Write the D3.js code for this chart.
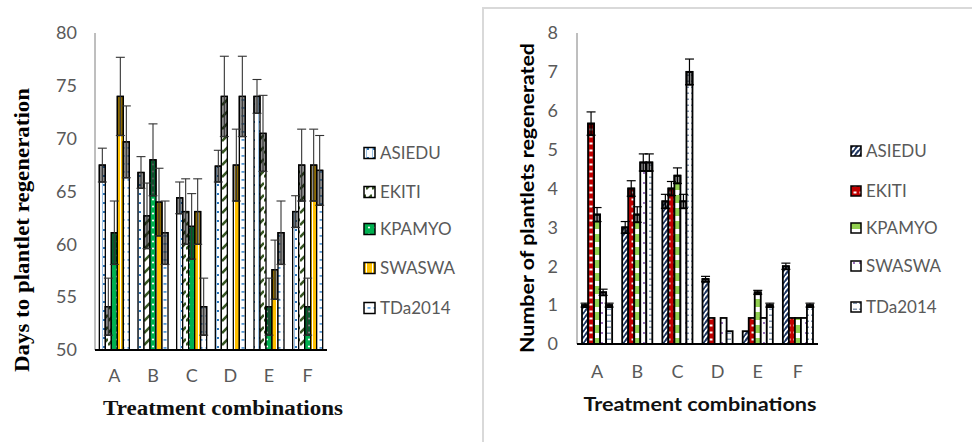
<!DOCTYPE html>
<html>
<head>
<meta charset="utf-8">
<script src="https://cdn.jsdelivr.net/npm/d3@7/dist/d3.min.js"></script>
<style>
    body { margin: 0; background: #fff; }
    svg { display: block; }
</style>
</head>
<body>
<div class="chart"></div>
<script>
const categories = ["A", "B", "C", "D", "E", "F"];
const seriesNames = ["ASIEDU", "EKITI", "KPAMYO", "SWASWA", "TDa2014"];

// left panel: days to plantlet regeneration
const daysTicks = [50, 55, 60, 65, 70, 75, 80];
const daysASIEDU = [67.5, 66.8, 64.4, 67.4, 74.0, 63.1];
const daysEKITI = [54.1, 62.7, 63.1, 74.0, 70.5, 67.5];
const daysKPAMYO = [61.1, 68.0, 61.7, 50.0, 54.1, 54.1];
const daysSWASWA = [74.0, 64.0, 63.1, 67.5, 57.6, 67.5];
const daysTDa2014 = [69.7, 61.1, 54.1, 74.0, 61.1, 67.0];
const daysErrASIEDU = [1.6, 1.5, 1.5, 1.5, 1.6, 1.5];
const daysErrEKITI = [2.7, 3.1, 3.1, 3.8, 3.6, 3.4];
const daysErrKPAMYO = [3.0, 3.4, 3.1, 0, 2.7, 2.7];
const daysErrSWASWA = [3.7, 3.2, 3.1, 3.4, 2.8, 3.4];
const daysErrTDa2014 = [3.4, 3.0, 2.7, 3.8, 3.0, 3.3];

// right panel: number of plantlets regenerated
const plantTicks = [0, 1, 2, 3, 4, 5, 6, 7, 8];
const plantASIEDU = [1.0, 3.0, 3.67, 1.67, 0.33, 2.0];
const plantEKITI = [5.67, 4.0, 4.0, 0.67, 0.67, 0.67];
const plantKPAMYO = [3.33, 3.33, 4.33, 0, 1.33, 0.67];
const plantSWASWA = [1.33, 4.67, 3.67, 0.67, 0.67, 0.67];
const plantTDa2014 = [1.0, 4.67, 7.0, 0.33, 1.0, 1.0];
const plantErrASIEDU = [0.05, 0.15, 0.18, 0.07, 0, 0.08];
const plantErrEKITI = [0.3, 0.2, 0.18, 0, 0, 0];
const plantErrKPAMYO = [0.18, 0.2, 0.2, 0, 0.05, 0];
const plantErrSWASWA = [0.08, 0.22, 0.18, 0, 0, 0];
const plantErrTDa2014 = [0.05, 0.22, 0.33, 0, 0.05, 0.05];

const svg = d3.select('.chart')
    .append('svg')
    .attr('width', 972)
    .attr('height', 442);

const defs = svg.append('defs');

function addPattern(id, w, h, bg, draw) {
    const p = defs.append('pattern')
        .attr('id', id)
        .attr('patternUnits', 'userSpaceOnUse')
        .attr('width', w)
        .attr('height', h);
    p.append('rect').attr('width', w).attr('height', h).attr('fill', bg);
    draw(p);
}

// left panel fills
addPattern('lASIEDU', 6, 9, '#fff', p => {
    p.append('rect').attr('x', 0).attr('y', 4).attr('width', 3).attr('height', 2).attr('fill', '#2e75b6');
    p.append('rect').attr('x', 0).attr('y', 0).attr('width', 1).attr('height', 9).attr('fill', '#9dc3e6');
});
addPattern('lEKITI', 6, 12, '#fff', p => {
    p.append('path').attr('d', 'M0,9 L6,3').attr('stroke', '#375623').attr('stroke-width', 2.5);
});
addPattern('lKPAMYO', 6, 7, '#00b050', p => {
    p.append('circle').attr('cx', 3).attr('cy', 3.5).attr('r', 1.1).attr('fill', '#fff');
});
addPattern('lSWASWA', 6, 6, '#ffc000', p => {
    p.append('rect').attr('x', 0).attr('y', 0).attr('width', 1).attr('height', 6).attr('fill', '#fff');
});
addPattern('lTDa2014', 6, 8, '#fff', p => {
    p.append('rect').attr('x', 1.5).attr('y', 3).attr('width', 3).attr('height', 1.8).attr('fill', '#5b9bd5');
});

// right panel fills
addPattern('rASIEDU', 5, 6, '#fff', p => {
    p.append('path').attr('d', 'M-1,6 L5,-1 M4,7 L6,4').attr('stroke', '#203864').attr('stroke-width', 2.2);
});
addPattern('rEKITI', 6, 7, '#c00000', p => {
    p.append('rect').attr('x', 1.5).attr('y', 2.5).attr('width', 3).attr('height', 2).attr('fill', '#fff');
});
addPattern('rKPAMYO', 6, 13, '#fff', p => {
    p.append('rect').attr('x', 0).attr('y', 0).attr('width', 6).attr('height', 8).attr('fill', '#92d050');
});
addPattern('rSWASWA', 6, 10, '#fff', p => {
    p.append('circle').attr('cx', 2).attr('cy', 3).attr('r', 0.9).attr('fill', '#7030a0');
});
addPattern('rTDa2014', 6, 6, '#fff', p => {
    p.append('rect').attr('x', 1).attr('y', 2.5).attr('width', 4).attr('height', 1.5).attr('fill', '#8497b0');
});

function drawChart(opt) {
    const xScale = d3.scaleBand()
        .domain(categories)
        .range([opt.left, opt.right])
        .paddingInner(opt.gap)
        .paddingOuter(opt.gap / 2);

    const xInner = d3.scaleBand()
        .domain(seriesNames)
        .range([0, xScale.bandwidth()]);

    const yScale = d3.scaleLinear()
        .domain(opt.domain)
        .range([opt.bottom, opt.top]);

    const g = svg.append('g');

    const yAxis = d3.axisLeft(yScale)
        .tickValues(opt.ticks)
        .tickSize(0)
        .tickPadding(opt.yPad);

    const xAxis = d3.axisBottom(xScale)
        .tickSize(0)
        .tickPadding(opt.xPad);

    g.append('g')
        .attr('transform', 'translate(' + opt.left + ',0)')
        .call(yAxis)
        .call(a => a.select('.domain').remove())
        .selectAll('text')
        .attr('font-family', 'Lato, "Open Sans", sans-serif')
        .attr('font-size', opt.tickFont)
        .attr('fill', '#595959');

    g.append('g')
        .attr('transform', 'translate(0,' + opt.bottom + ')')
        .call(xAxis)
        .call(a => a.select('.domain').remove())
        .selectAll('text')
        .attr('font-family', 'Lato, "Open Sans", sans-serif')
        .attr('font-size', opt.tickFont)
        .attr('fill', '#595959');

    g.append('line')
        .attr('x1', opt.left).attr('x2', opt.left)
        .attr('y1', opt.top).attr('y2', opt.bottom)
        .attr('stroke', '#7f7f7f')
        .attr('stroke-width', 1);

    const base = opt.domain[0];

    opt.series.forEach((s, si) => {
        const name = seriesNames[si];
        const sg = g.append('g');
        const rows = categories.map((c, i) => ({ c: c, v: s.values[i], e: s.errors[i] }))
            .filter(d => d.v > base);

        sg.selectAll('rect.bar')
            .data(rows)
            .enter()
            .append('rect')
            .attr('class', 'bar')
            .attr('x', d => xScale(d.c) + xInner(name))
            .attr('y', d => yScale(d.v))
            .attr('width', xInner.bandwidth())
            .attr('height', d => yScale(base) - yScale(d.v))
            .attr('fill', 'url(#' + s.fill + ')')
            .attr('stroke', '#000')
            .attr('stroke-width', opt.barStroke);

        // darker band between the value and its lower error limit
        sg.selectAll('rect.shade')
            .data(rows.filter(d => d.e > 0))
            .enter()
            .append('rect')
            .attr('class', 'shade')
            .attr('x', d => xScale(d.c) + xInner(name))
            .attr('y', d => yScale(d.v))
            .attr('width', xInner.bandwidth())
            .attr('height', d => yScale(Math.max(base, d.v - d.e)) - yScale(d.v))
            .attr('fill', '#000')
            .attr('fill-opacity', 0.45)
            .attr('stroke', '#000')
            .attr('stroke-width', opt.barStroke);
    });

    opt.series.forEach((s, si) => {
        const name = seriesNames[si];
        const rows = categories.map((c, i) => ({ c: c, v: s.values[i], e: s.errors[i] }))
            .filter(d => d.v > base && d.e > 0);
        const cx = d => xScale(d.c) + xInner(name) + xInner.bandwidth() / 2;
        const eg = g.append('g')
            .attr('stroke', opt.errColor)
            .attr('stroke-width', opt.errStroke);

        rows.forEach(d => {
            const x = cx(d);
            const lo = yScale(Math.max(base, d.v - d.e));
            const hi = yScale(d.v + d.e);
            eg.append('line').attr('x1', x).attr('x2', x).attr('y1', lo).attr('y2', hi);
            eg.append('line').attr('x1', x - opt.cap).attr('x2', x + opt.cap).attr('y1', hi).attr('y2', hi);
            eg.append('line').attr('x1', x - opt.cap).attr('x2', x + opt.cap).attr('y1', lo).attr('y2', lo);
        });
    });

    g.append('line')
        .attr('x1', opt.left).attr('x2', opt.right)
        .attr('y1', opt.bottom).attr('y2', opt.bottom)
        .attr('stroke', '#000')
        .attr('stroke-width', 2);

    // legend
    const lg = g.append('g');
    opt.series.forEach((s, si) => {
        const y = opt.legendY[si];
        lg.append('rect')
            .attr('x', opt.legendX)
            .attr('y', y - opt.swatch / 2)
            .attr('width', opt.swatch)
            .attr('height', opt.swatch)
            .attr('fill', 'url(#' + s.fill + ')')
            .attr('stroke', '#000')
            .attr('stroke-width', 1.5);
        lg.append('text')
            .attr('x', opt.legendX + opt.swatch + 5)
            .attr('y', y)
            .attr('dy', '0.36em')
            .attr('font-family', 'Lato, "Open Sans", sans-serif')
            .attr('font-size', opt.legendFont)
            .attr('fill', '#595959')
            .text(seriesNames[si]);
    });

    g.append('text')
        .attr('transform', 'translate(' + opt.yTitleX + ',' + opt.yTitleY + ') rotate(-90)')
        .attr('text-anchor', 'middle')
        .attr('dy', '0.35em')
        .attr('font-family', opt.titleFont)
        .attr('font-weight', 'bold')
        .attr('font-size', opt.titleSize)
        .attr('fill', '#000')
        .attr('textLength', opt.yTitleLen)
        .attr('lengthAdjust', 'spacingAndGlyphs')
        .text(opt.yTitle);

    g.append('text')
        .attr('x', opt.xTitleX)
        .attr('y', opt.xTitleY)
        .attr('text-anchor', 'middle')
        .attr('dy', '0.35em')
        .attr('font-family', opt.titleFont)
        .attr('font-weight', 'bold')
        .attr('font-size', opt.titleSize)
        .attr('fill', '#111')
        .attr('textLength', opt.xTitleLen)
        .attr('lengthAdjust', 'spacingAndGlyphs')
        .text('Treatment combinations');
}

// frame around the right panel
svg.append('path')
    .attr('d', 'M483,442 L483,8 L972,8')
    .attr('fill', 'none')
    .attr('stroke', '#d9d9d9')
    .attr('stroke-width', 2);

drawChart({
    left: 95, right: 327, top: 33, bottom: 350,
    gap: 0.224,
    domain: [50, 80], ticks: daysTicks,
    yPad: 18, xPad: 19, tickFont: 18,
    barStroke: 1.3, errColor: '#333', errStroke: 1.1, cap: 4.5,
    series: [
        { values: daysASIEDU, errors: daysErrASIEDU, fill: 'lASIEDU' },
        { values: daysEKITI, errors: daysErrEKITI, fill: 'lEKITI' },
        { values: daysKPAMYO, errors: daysErrKPAMYO, fill: 'lKPAMYO' },
        { values: daysSWASWA, errors: daysErrSWASWA, fill: 'lSWASWA' },
        { values: daysTDa2014, errors: daysErrTDa2014, fill: 'lTDa2014' }
    ],
    legendX: 364, legendY: [153, 192, 229, 268, 308], swatch: 11, legendFont: 17,
    titleFont: '"Liberation Serif", "Times New Roman", serif', titleSize: 20,
    yTitle: 'Days to plantlet regeneration', yTitleX: 22, yTitleY: 230, yTitleLen: 284,
    xTitleX: 223, xTitleY: 408, xTitleLen: 240
});

drawChart({
    left: 577, right: 818, top: 33, bottom: 344,
    gap: 0.25,
    domain: [0, 8], ticks: plantTicks,
    yPad: 19, xPad: 21, tickFont: 18,
    barStroke: 1.8, errColor: '#000', errStroke: 1.2, cap: 4.5,
    series: [
        { values: plantASIEDU, errors: plantErrASIEDU, fill: 'rASIEDU' },
        { values: plantEKITI, errors: plantErrEKITI, fill: 'rEKITI' },
        { values: plantKPAMYO, errors: plantErrKPAMYO, fill: 'rKPAMYO' },
        { values: plantSWASWA, errors: plantErrSWASWA, fill: 'rSWASWA' },
        { values: plantTDa2014, errors: plantErrTDa2014, fill: 'rTDa2014' }
    ],
    legendX: 851, legendY: [151, 191, 228, 266, 307], swatch: 10, legendFont: 17,
    titleFont: 'Lato, "Open Sans", sans-serif', titleSize: 19,
    yTitle: 'Number of plantlets regenerated', yTitleX: 527, yTitleY: 198, yTitleLen: 310,
    xTitleX: 700, xTitleY: 404, xTitleLen: 233
});
</script>
</body>
</html>
